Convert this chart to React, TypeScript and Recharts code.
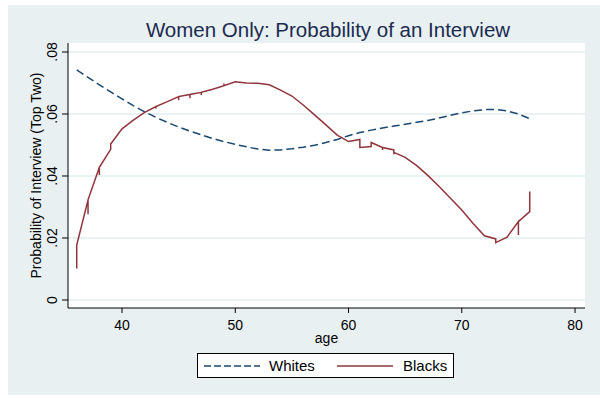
import React from "react";
import { LineChart, Line, XAxis, YAxis, CartesianGrid } from "recharts";

const title = "Women Only: Probability of an Interview";
const xLabel = "age";
const yLabel = "Probability of Interview (Top Two)";
const xTicks = [40, 50, 60, 70, 80];
const yTicks = [0, 0.02, 0.04, 0.06, 0.08];
const yTickLabels = ["0", ".02", ".04", ".06", ".08"];

const whitesAge = [36, 37, 38, 39, 40, 41, 42, 43, 44, 45, 46, 47, 48, 49, 50, 51, 52, 53, 54, 55, 56, 57, 58, 59, 60, 61, 62, 63, 64, 65, 66, 67, 68, 69, 70, 71, 72, 73, 74, 75, 76];
const whitesVal = [0.0742, 0.0718, 0.0694, 0.0671, 0.0649, 0.0627, 0.0607, 0.0589, 0.0573, 0.0558, 0.0545, 0.0533, 0.0521, 0.0511, 0.0502, 0.0494, 0.0487, 0.0483, 0.0484, 0.0488, 0.0493, 0.0499, 0.0508, 0.0518, 0.053, 0.054, 0.0548, 0.0555, 0.0561, 0.0567, 0.0573, 0.0579, 0.0587, 0.0596, 0.0604, 0.061, 0.0614, 0.0615, 0.061, 0.06, 0.0585];

const blacksAge = [36, 36, 37, 37, 37, 38, 38, 38, 39, 39, 40, 41, 42, 43, 43, 43, 44, 45, 45, 45, 46, 46, 46, 47, 47, 47, 48, 49, 49, 49, 50, 51, 52, 53, 54, 55, 56, 57, 58, 59, 60, 61, 61, 62, 62, 63, 63, 63, 64, 64, 64, 65, 66, 67, 68, 69, 70, 71, 72, 73, 73, 74, 75, 75, 75, 76, 76];
const blacksVal = [0.0102, 0.0177, 0.0323, 0.0277, 0.0323, 0.0428, 0.0403, 0.0428, 0.0486, 0.0503, 0.0552, 0.058, 0.0605, 0.0624, 0.0618, 0.0624, 0.064, 0.0656, 0.0644, 0.0656, 0.0663, 0.0651, 0.0663, 0.067, 0.0661, 0.067, 0.068, 0.0691, 0.0698, 0.0691, 0.0704, 0.07, 0.0699, 0.0694, 0.0677, 0.0658, 0.0629, 0.0597, 0.0565, 0.0532, 0.0511, 0.0518, 0.0492, 0.0495, 0.0508, 0.0492, 0.0484, 0.0492, 0.0484, 0.047, 0.0476, 0.046, 0.0434, 0.0402, 0.0366, 0.0328, 0.029, 0.0247, 0.0207, 0.0197, 0.0185, 0.0203, 0.0253, 0.021, 0.0253, 0.0285, 0.035];

const whitesData = whitesAge.map((a, i) => ({ age: a, v: whitesVal[i] }));
const blacksData = blacksAge.map((a, i) => ({ age: a, v: blacksVal[i] }));

const NAVY = "#1a476f";
const MAROON = "#90353b";
const BG = "#e8f0f2";
const GRID = "#e3ecef";
const FONT = "'Liberation Sans', Arial, sans-serif";

const YTick = (props: any) => {
  const { y, payload } = props;
  const idx = yTicks.indexOf(payload.value);
  const lbl = idx >= 0 ? yTickLabels[idx] : String(payload.value);
  return (
    <text
      x={52}
      y={y}
      dy="0.35em"
      textAnchor="middle"
      fontSize={14}
      fontFamily={FONT}
      fill="#000"
      transform={`rotate(-90, 52, ${y})`}
    >
      {lbl}
    </text>
  );
};

const XTick = (props: any) => {
  const { x, y, payload } = props;
  return (
    <text x={x} y={y} dy="0.71em" textAnchor="middle" fontSize={14} fontFamily={FONT} fill="#000">
      {payload.value}
    </text>
  );
};

const XLabel = (props: any) => {
  const { viewBox } = props;
  const cx = viewBox.x + viewBox.width / 2;
  return (
    <text x={cx} y={343} textAnchor="middle" fontSize={14} fontFamily={FONT} fill="#000">
      {xLabel}
    </text>
  );
};

const YLabel = (props: any) => {
  const { viewBox } = props;
  const cy = viewBox.y + viewBox.height / 2;
  return (
    <text
      x={36}
      y={cy}
      dy="0.35em"
      textAnchor="middle"
      fontSize={14}
      fontFamily={FONT}
      fill="#000"
      transform={`rotate(-90, 36, ${cy})`}
    >
      {yLabel}
    </text>
  );
};

export default function App() {
  return (
    <div style={{ position: "absolute", left: 0, top: 0, width: 600, height: 398, background: "#fff" }}>
      <div style={{ position: "absolute", left: 8, top: 5, width: 592, height: 390, background: BG }} />
      <div
        style={{
          position: "absolute",
          left: 0,
          top: 19,
          width: 656,
          textAlign: "center",
          fontFamily: FONT,
          fontSize: 20.5,
          lineHeight: "22px",
          color: "#1c2b4f",
          whiteSpace: "nowrap",
        }}
      >
        {title}
      </div>
      <div style={{ position: "absolute", left: 0, top: 0 }}>
        <LineChart width={600} height={398} margin={{ top: 43, right: 15, bottom: 30, left: 0 }}>
          <CartesianGrid horizontal vertical={false} fill="#fff" stroke={GRID} strokeWidth={1.5} horizontalValues={yTicks} />
          <XAxis
            dataKey="age"
            type="number"
            domain={[35.23, 80.88]}
            ticks={xTicks}
            allowDataOverflow
            height={60}
            tickSize={5}
            tickMargin={7}
            axisLine={{ stroke: "#000" }}
            tickLine={{ stroke: "#000" }}
            tick={<XTick />}
            label={<XLabel />}
          />
          <YAxis
            type="number"
            domain={[-0.00258, 0.0829]}
            ticks={yTicks}
            allowDataOverflow
            width={68}
            tickSize={6}
            axisLine={{ stroke: "#000" }}
            tickLine={{ stroke: "#000" }}
            tick={<YTick />}
            label={<YLabel />}
          />
          <Line
            data={whitesData}
            dataKey="v"
            type="linear"
            stroke={NAVY}
            strokeWidth={1.5}
            strokeDasharray="8 4"
            dot={false}
            isAnimationActive={false}
          />
          <Line
            data={blacksData}
            dataKey="v"
            type="linear"
            stroke={MAROON}
            strokeWidth={1.5}
            dot={false}
            isAnimationActive={false}
          />
        </LineChart>
      </div>
      <div
        style={{
          position: "absolute",
          left: 197,
          top: 353,
          width: 255,
          height: 23,
          background: "#fff",
          border: "1px solid #000",
          fontFamily: FONT,
          fontSize: 15,
        }}
      >
        <svg width={60} height={23} style={{ position: "absolute", left: 6, top: 0 }}>
          <line x1={0} y1={12} x2={56} y2={12} stroke={NAVY} strokeWidth={1.5} strokeDasharray="7 3" />
        </svg>
        <span style={{ position: "absolute", left: 71, top: 3, lineHeight: "17px" }}>Whites</span>
        <svg width={60} height={23} style={{ position: "absolute", left: 139, top: 0 }}>
          <line x1={0} y1={12} x2={56} y2={12} stroke={MAROON} strokeWidth={1.5} />
        </svg>
        <span style={{ position: "absolute", left: 205, top: 3, lineHeight: "17px" }}>Blacks</span>
      </div>
    </div>
  );
}
